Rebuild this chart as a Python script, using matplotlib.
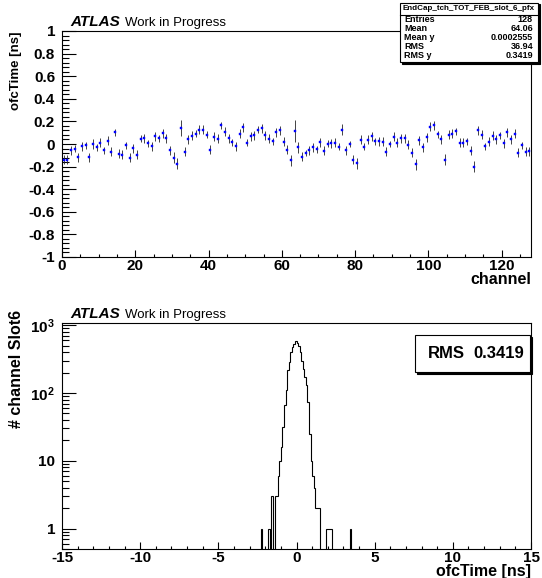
import numpy as np
import matplotlib
matplotlib.use('Agg')
import matplotlib.pyplot as plt
from matplotlib.patches import Rectangle
from matplotlib.ticker import MultipleLocator, FixedLocator, LogLocator, NullFormatter, FuncFormatter

plt.rcParams['font.family'] = ['Liberation Sans', 'DejaVu Sans']
plt.rcParams['font.weight'] = 'bold'
plt.rcParams['axes.unicode_minus'] = False
plt.rcParams['mathtext.fontset'] = 'custom'
plt.rcParams['mathtext.rm'] = 'Liberation Sans:bold'
plt.rcParams['mathtext.default'] = 'rm'

# ---- top panel: mean ofcTime per channel (profile) ----
ofc_mean = [
    -0.14, -0.138, -0.055, -0.043, -0.117, -0.019, -0.01, -0.117, 0.0, -0.028,
    0.01, -0.055, 0.028, -0.067, 0.102, -0.088, -0.096, -0.01, -0.123, -0.037,
    -0.093, 0.046, 0.052, 0.007, -0.019, 0.067, 0.049, 0.096, 0.052, -0.055,
    -0.12, -0.173,
    0.138, -0.067, 0.04, 0.073, 0.09, 0.126, 0.126, 0.084, -0.052, 0.064,
    0.046, 0.164, 0.108, 0.052, 0.016, -0.019, 0.09, 0.15, 0.01, 0.07,
    0.078, 0.126, 0.138, 0.078, 0.046, 0.025, 0.102, 0.12, 0.019, -0.049,
    -0.144, 0.114,
    -0.028, -0.114, -0.079, -0.055, -0.028, -0.046, 0.016, -0.058, 0.002, 0.007,
    0.013, -0.025, 0.126, -0.055, 0.0, -0.138, -0.17, 0.037, -0.025, 0.037,
    0.07, 0.025, 0.025, 0.019, -0.07, 0.0, 0.064, 0.013, 0.052, 0.052,
    -0.007, -0.079, -0.179,
    0.031, -0.028, 0.058, 0.153, 0.164, 0.087, 0.043, -0.138, 0.084, 0.09,
    0.111, 0.013, 0.01, 0.025, -0.061, -0.2, 0.123, 0.084, -0.022, 0.022,
    0.075, 0.043, 0.078, 0.007, 0.102, 0.043, 0.09, -0.076, -0.01, -0.07,
    -0.065,
]
ofc_err = [
    0.04, 0.04, 0.04, 0.03, 0.04, 0.04, 0.03, 0.04, 0.04, 0.03,
    0.04, 0.03, 0.04, 0.04, 0.03, 0.04, 0.04, 0.03, 0.04, 0.04,
    0.04, 0.03, 0.04, 0.03, 0.04, 0.04, 0.03, 0.04, 0.04, 0.04,
    0.05, 0.05,
    0.07, 0.04, 0.04, 0.04, 0.03, 0.04, 0.04, 0.03, 0.04, 0.04,
    0.04, 0.03, 0.04, 0.04, 0.03, 0.04, 0.04, 0.04, 0.03, 0.04,
    0.04, 0.03, 0.04, 0.04, 0.04, 0.03, 0.04, 0.04, 0.04, 0.04,
    0.05, 0.10,
    0.05, 0.04, 0.03, 0.04, 0.04, 0.03, 0.04, 0.04, 0.03, 0.04,
    0.04, 0.03, 0.05, 0.04, 0.03, 0.04, 0.05, 0.04, 0.03, 0.04,
    0.04, 0.03, 0.04, 0.04, 0.04, 0.03, 0.04, 0.04, 0.04, 0.04,
    0.04, 0.04, 0.05,
    0.04, 0.04, 0.04, 0.04, 0.04, 0.03, 0.04, 0.05, 0.04, 0.04,
    0.03, 0.04, 0.04, 0.03, 0.04, 0.05, 0.04, 0.04, 0.03, 0.04,
    0.04, 0.04, 0.03, 0.04, 0.04, 0.04, 0.04, 0.04, 0.03, 0.04,
    0.04,
]
n_channels = 128

stats_title = 'EndCap_tch_TOT_FEB_slot_6_pfx'
stats_rows = [('Entries', '128'), ('Mean', '64.06'), ('Mean y', '0.0002555'),
              ('RMS', '36.94'), ('RMS y', '0.3419')]

# ---- bottom panel: ofcTime histogram, 0.1 ns bins on [-15, 15] ----
hist_range = (-15.0, 15.0)
bin_width = 0.1
filled_from = -2.3   # first listed bin (lower edge), everything else is empty
hist_counts = [
    1, 0, 0, 0, 0, 1, 0, 3, 0, 3,            # -2.3 .. -1.4
    3, 6, 10, 16, 32, 66, 110, 218, 290, 405,  # -1.3 .. -0.4
    470, 525, 590, 545, 490, 400, 300, 225, 170, 130,  # -0.3 .. 0.6
    75, 25, 10, 6, 4, 2, 2, 2, 0, 0,          # 0.7 .. 1.6
    0, 0, 1, 1, 1, 1, 0, 0, 0, 0,             # 1.7 .. 2.6
    0, 0, 0, 0, 0, 0, 0, 1,                   # 2.7 .. 3.4
]
rms_text = '0.3419'

W, H = 542, 578
fig = plt.figure(figsize=(W / 100, H / 100), dpi=100)

def fx(px):
    return px / W

def fy(py):
    return 1 - py / H

left, right = 62, 531
ax1 = fig.add_axes([fx(left), fy(257), fx(right) - fx(left), fy(31) - fy(257)])
ax2 = fig.add_axes([fx(left), fy(549), fx(right) - fx(left), fy(323) - fy(549)])

# top: profile
x = np.arange(n_channels) + 0.5
ax1.errorbar(x, ofc_mean, yerr=ofc_err, fmt='none', ecolor='#222222',
             elinewidth=0.7, capsize=0, alpha=0.85, zorder=3)
ax1.plot(x, ofc_mean, 's', ms=1.6, mfc='#0000ff', mec='#0000ff', mew=0.3, zorder=4)
ax1.set_xlim(0, n_channels)
ax1.set_ylim(-1, 1)
ax1.xaxis.set_major_locator(MultipleLocator(20))
ax1.xaxis.set_minor_locator(MultipleLocator(5))
ax1.yaxis.set_major_locator(MultipleLocator(0.2))
ax1.yaxis.set_minor_locator(MultipleLocator(0.04))
ax1.yaxis.set_major_formatter(FuncFormatter(lambda v, p: '%g' % round(v, 2)))
ax1.set_xlabel('channel', fontsize=11.5, fontweight='bold', loc='right')
ax1.xaxis.set_label_coords(1.0, -0.065)
ax1.set_ylabel('ofcTime [ns]', fontsize=9.5, fontweight='bold', loc='top')
ax1.yaxis.set_label_coords(-0.085, 1.0)

# bottom: histogram
nb = int(round((hist_range[1] - hist_range[0]) / bin_width))
edges = np.linspace(hist_range[0], hist_range[1], nb + 1)
counts = np.zeros(nb)
i0 = int(round((filled_from - hist_range[0]) / bin_width))
counts[i0:i0 + len(hist_counts)] = hist_counts
floor = 1e-3
ax2.stairs(np.where(counts > 0, counts, floor), edges, baseline=floor,
           color='black', lw=0.8)
ax2.set_yscale('log')
ax2.set_xlim(*hist_range)
ax2.set_ylim(0.5, 1080)
ax2.xaxis.set_major_locator(MultipleLocator(5))
ax2.xaxis.set_minor_locator(MultipleLocator(1))
ax2.yaxis.set_major_locator(FixedLocator([1, 10, 100, 1000]))
ax2.yaxis.set_major_formatter(FuncFormatter(
    lambda v, p: {1: '1', 10: '10', 100: '$10^{2}$', 1000: '$10^{3}$'}.get(int(round(v)), '')))
ax2.yaxis.set_minor_locator(LogLocator(base=10, subs=np.arange(2, 10)))
ax2.yaxis.set_minor_formatter(NullFormatter())
ax2.set_xlabel('ofcTime [ns]', fontsize=11.5, fontweight='bold', loc='right')
ax2.xaxis.set_label_coords(1.0, -0.065)
ax2.set_ylabel('# channel Slot6', fontsize=11.5, fontweight='bold', loc='top')
ax2.yaxis.set_label_coords(-0.082, 1.06)

for ax in (ax1, ax2):
    for s in ax.spines.values():
        s.set_linewidth(0.8)
    ax.tick_params(axis='both', which='both', direction='in', top=False, right=False,
                   labelsize=11, width=0.8)
    ax.tick_params(axis='y', which='major', length=10, pad=5)
    ax.tick_params(axis='y', which='minor', length=5)
    ax.tick_params(axis='x', which='major', length=5, pad=1.5)
    ax.tick_params(axis='x', which='minor', length=2.5)
    for lab in ax.get_xticklabels() + ax.get_yticklabels():
        lab.set_fontweight('bold')
    ax.text(0.017, 1.008, 'ATLAS', transform=ax.transAxes, fontsize=11,
            fontweight='bold', style='italic', va='bottom')
    ax.text(0.135, 1.008, 'Work in Progress', transform=ax.transAxes, fontsize=9.5,
            fontweight='normal', va='bottom')

# stats box (top right)
bx0, bx1, by0, by1 = 400, 538, 3, 62
fig.patches.append(Rectangle((fx(bx0) + 1.5 / W, fy(by1) - 1.5 / H), fx(bx1) - fx(bx0),
                             fy(by0) - fy(by1), transform=fig.transFigure,
                             facecolor='black', edgecolor='black', lw=0.8, zorder=5))
fig.patches.append(Rectangle((fx(bx0), fy(by1)), fx(bx1) - fx(bx0), fy(by0) - fy(by1),
                             transform=fig.transFigure, facecolor='white',
                             edgecolor='black', lw=0.8, zorder=6))
fig.text(fx((bx0 + bx1) / 2), fy(9), stats_title, fontsize=5.8, fontweight='bold',
         ha='center', va='center', zorder=7)
fig.lines.append(plt.Line2D([fx(bx0), fx(bx1)], [fy(14.5), fy(14.5)],
                            transform=fig.transFigure, color='black', lw=0.8, zorder=7))
for i, (name, val) in enumerate(stats_rows):
    yy = fy(19 + 9.2 * i)
    fig.text(fx(bx0 + 4), yy, name, fontsize=6.5, fontweight='bold', ha='left',
             va='center', zorder=7)
    fig.text(fx(bx1 - 5), yy, val, fontsize=6.5, fontweight='bold', ha='right',
             va='center', zorder=7)

# RMS box (bottom right)
rx0, rx1, ry0, ry1 = 415, 530, 335, 372
fig.patches.append(Rectangle((fx(rx0) + 2 / W, fy(ry1) - 2 / H), fx(rx1) - fx(rx0),
                             fy(ry0) - fy(ry1), transform=fig.transFigure,
                             facecolor='black', edgecolor='black', lw=0.8, zorder=5))
fig.patches.append(Rectangle((fx(rx0), fy(ry1)), fx(rx1) - fx(rx0), fy(ry0) - fy(ry1),
                             transform=fig.transFigure, facecolor='white',
                             edgecolor='black', lw=0.8, zorder=6))
fig.text(fx(428), fy(353.5), 'RMS', fontsize=12, fontweight='bold', ha='left',
         va='center', zorder=7)
fig.text(fx(524), fy(353.5), rms_text, fontsize=12, fontweight='bold', ha='right',
         va='center', zorder=7)

fig.savefig('out.png', dpi=100)
